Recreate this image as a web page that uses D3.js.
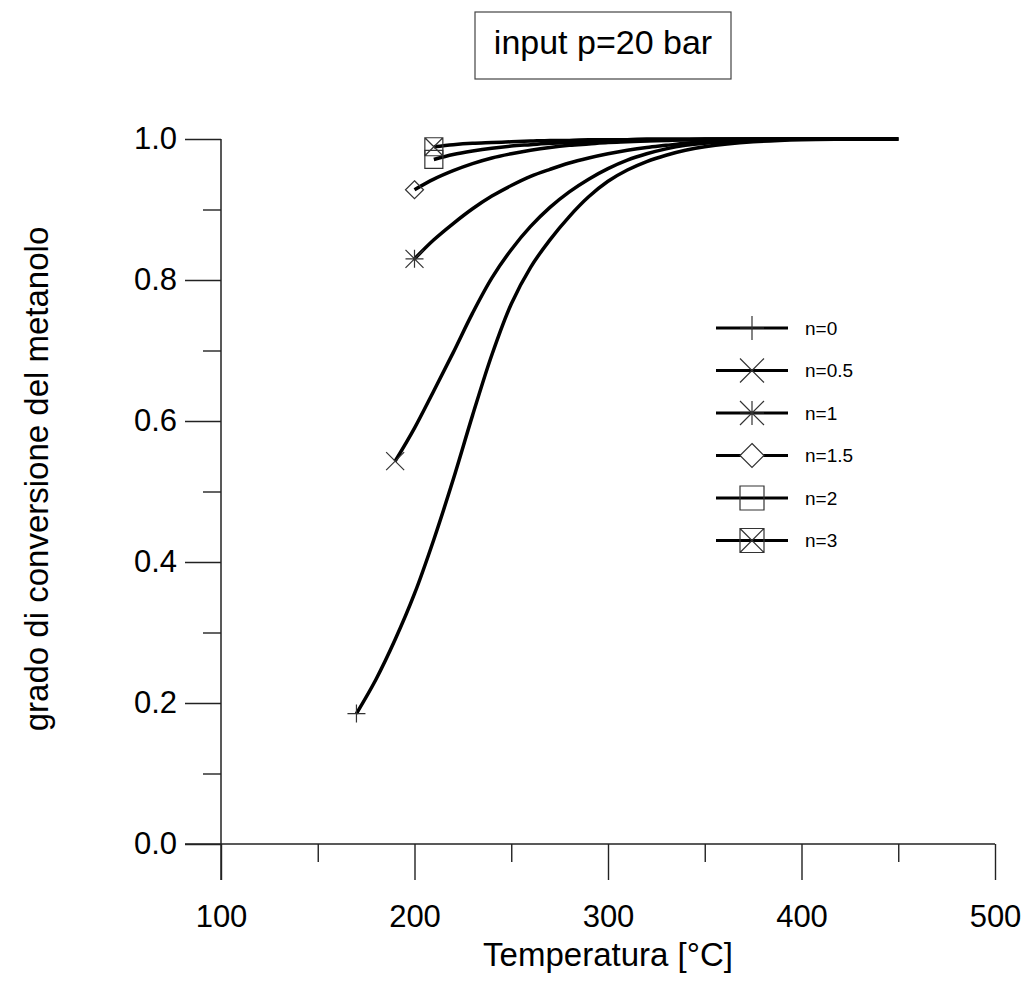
<!DOCTYPE html>
<html lang="it">
<head>
<meta charset="UTF-8">
<title>grado di conversione</title>
<script src="https://cdn.jsdelivr.net/npm/d3@7/dist/d3.min.js"></script>
<style>
  body{margin:0;background:#fff;}
  text{font-family:"Liberation Sans",Arial,sans-serif;fill:#000;}
</style>
</head>
<body>
<script>
// dati
var temperature=[170,180,190,200,210,220,230,240,250,260,270,280,290,300,310,320,330,340,350,375,400,425,450];
var conv_n0 =[0.185,0.233,0.290,0.355,0.432,0.517,0.608,0.694,0.766,0.818,0.857,0.890,0.918,0.940,0.956,0.968,0.977,0.984,0.989,0.996,0.999,1.0,1.0];
var conv_n05=[null,null,0.543,0.590,0.643,0.697,0.753,0.803,0.843,0.876,0.903,0.925,0.943,0.958,0.970,0.979,0.986,0.991,0.994,0.998,1.0,1.0,1.0];
var conv_n1 =[null,null,null,0.830,0.857,0.880,0.901,0.919,0.934,0.947,0.957,0.966,0.973,0.979,0.984,0.988,0.991,0.994,0.996,0.999,1.0,1.0,1.0];
var conv_n15=[null,null,null,0.928,0.943,0.955,0.965,0.973,0.979,0.984,0.988,0.991,0.993,0.995,0.996,0.997,0.998,0.999,0.999,1.0,1.0,1.0,1.0];
var conv_n2 =[null,null,null,null,0.971,0.978,0.983,0.987,0.990,0.992,0.994,0.995,0.996,0.997,0.998,0.998,0.999,0.999,1.0,1.0,1.0,1.0,1.0];
var conv_n3 =[null,null,null,null,0.989,0.992,0.994,0.995,0.996,0.997,0.998,0.998,0.999,0.999,0.999,1.0,1.0,1.0,1.0,1.0,1.0,1.0,1.0];
var seriesNames=["n=0","n=0.5","n=1","n=1.5","n=2","n=3"];
var markerTypes=["plus","cross","asterisk","diamond","square","squarex"];
var xMajor=[100,200,300,400,500], xMinor=[150,250,350,450];
var yMajor=[0,0.2,0.4,0.6,0.8,1.0], yMinor=[0.1,0.3,0.5,0.7,0.9];
var titleText="input p=20 bar";

var allSeries=[conv_n0,conv_n05,conv_n1,conv_n15,conv_n2,conv_n3];

var width=1031,height=983;
var svg=d3.select("body").append("svg").attr("width",width).attr("height",height);

var xScale=d3.scaleLinear().domain([100,500]).range([221,995]);
var yScale=d3.scaleLinear().domain([0,1]).range([844,139]);

// assi
var axisColor="#222";
svg.append("line").attr("x1",xScale(100)).attr("x2",xScale(100))
  .attr("y1",yScale(1)).attr("y2",yScale(0)+36).attr("stroke",axisColor).attr("stroke-width",1.5);
svg.append("line").attr("x1",xScale(100)-36).attr("x2",xScale(500))
  .attr("y1",yScale(0)).attr("y2",yScale(0)).attr("stroke",axisColor).attr("stroke-width",1.5);

function styleAxis(g){
  g.select(".domain").remove();
  g.selectAll(".tick line").attr("stroke",axisColor).attr("stroke-width",1.4);
  g.selectAll(".tick text").attr("font-size",31).attr("font-family","Liberation Sans, Arial, sans-serif").attr("fill","#000");
}

svg.append("g").attr("transform","translate(0,"+yScale(0)+")")
  .call(d3.axisBottom(xScale).tickValues(xMajor).tickSize(36).tickPadding(25).tickFormat(d3.format("d")))
  .call(styleAxis);
svg.append("g").attr("transform","translate(0,"+yScale(0)+")")
  .call(d3.axisBottom(xScale).tickValues(xMinor).tickSize(18).tickFormat(""))
  .call(styleAxis);
svg.append("g").attr("transform","translate("+xScale(100)+",0)")
  .call(d3.axisLeft(yScale).tickValues(yMajor).tickSize(36).tickPadding(8).tickFormat(d3.format(".1f")))
  .call(styleAxis);
svg.append("g").attr("transform","translate("+xScale(100)+",0)")
  .call(d3.axisLeft(yScale).tickValues(yMinor).tickSize(18).tickFormat(""))
  .call(styleAxis);

// titoli assi
svg.append("text").attr("x",(xScale(100)+xScale(500))/2).attr("y",966)
  .attr("text-anchor","middle").attr("font-size",33).text("Temperatura [°C]");
svg.append("text").attr("transform","translate(48,479) rotate(-90)")
  .attr("text-anchor","middle").attr("font-size",33).text("grado di conversione del metanolo");

// riquadro titolo
svg.append("rect").attr("x",475).attr("y",12).attr("width",256).attr("height",67)
  .attr("fill","none").attr("stroke","#444").attr("stroke-width",1.2);
svg.append("text").attr("x",603).attr("y",54).attr("text-anchor","middle")
  .attr("font-size",34).text(titleText);

// simboli
function markerPath(type,s){
  var h=s/2,p=d3.path();
  if(type=="plus"||type=="asterisk"){p.moveTo(-h,0);p.lineTo(h,0);p.moveTo(0,-h);p.lineTo(0,h);}
  if(type=="cross"||type=="asterisk"||type=="squarex"){p.moveTo(-h,-h);p.lineTo(h,h);p.moveTo(-h,h);p.lineTo(h,-h);}
  if(type=="diamond"){p.moveTo(0,-h);p.lineTo(h,0);p.lineTo(0,h);p.lineTo(-h,0);p.closePath();}
  if(type=="square"||type=="squarex"){p.rect(-h,-h,s,s);}
  return p.toString();
}

var line=d3.line()
  .defined(function(d){return d[1]!=null;})
  .x(function(d){return xScale(d[0]);})
  .y(function(d){return yScale(d[1]);})
  .curve(d3.curveCatmullRom.alpha(0.5));

allSeries.forEach(function(vals,i){
  var pts=temperature.map(function(t,j){return [t,vals[j]];}).filter(function(d){return d[1]!=null;});
  svg.append("path").datum(pts).attr("d",line)
    .attr("fill","none").attr("stroke","#000").attr("stroke-width",3.5);
  var first=pts[0];
  svg.append("path").attr("d",markerPath(markerTypes[i],18))
    .attr("transform","translate("+xScale(first[0])+","+yScale(first[1])+")")
    .attr("fill","none").attr("stroke","#333").attr("stroke-width",1.2);
});

// legenda
var legend=svg.append("g").attr("transform","translate(716,328)");
seriesNames.forEach(function(name,i){
  var gy=i*42.5;
  var g=legend.append("g").attr("transform","translate(0,"+gy+")");
  g.append("line").attr("x1",0).attr("x2",72).attr("y1",0).attr("y2",0)
    .attr("stroke","#000").attr("stroke-width",3.2);
  g.append("path").attr("d",markerPath(markerTypes[i],24))
    .attr("transform","translate(36,0)")
    .attr("fill",markerTypes[i]=="diamond"?"#fff":"none").attr("stroke","#333").attr("stroke-width",1.2);
  g.append("text").attr("x",89).attr("y",0).attr("dy","0.36em").attr("font-size",19).text(name);
});
</script>
</body>
</html>
